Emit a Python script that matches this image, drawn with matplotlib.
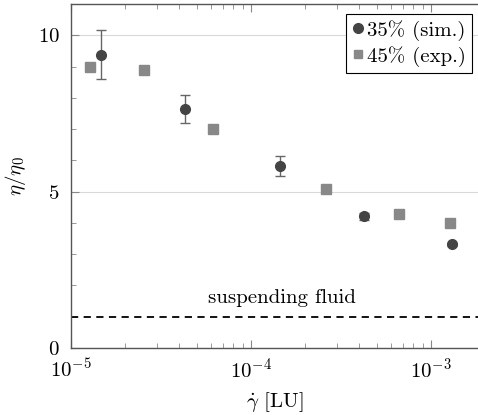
import matplotlib
matplotlib.use("Agg")
import matplotlib.pyplot as plt
from matplotlib.lines import Line2D
from matplotlib.transforms import blended_transform_factory
from matplotlib.ticker import LogLocator, MultipleLocator, NullFormatter

plt.rcParams.update({
    "font.family": "serif",
    "font.serif": ["cmr10"],
    "mathtext.fontset": "cm",
    "axes.formatter.use_mathtext": True,
    "font.size": 15,
})

# simulation, 35 % volume fraction
sim_rate = [1.47e-5, 4.33e-5, 1.456e-4, 4.27e-4, 1.32e-3]
sim_visc = [9.38, 7.65, 5.82, 4.21, 3.31]
sim_err = [0.78, 0.45, 0.32, 0.12, 0.05]

# experiment, 45 % volume fraction
exp_rate = [1.28e-5, 2.55e-5, 6.15e-5, 2.62e-4, 6.7e-4, 1.28e-3]
exp_visc = [8.99, 8.89, 7.01, 5.10, 4.30, 4.00]

fluid_level = 1.0
sim_color = "#444444"
exp_color = "#888888"

fig = plt.figure(figsize=(4.78, 4.15), dpi=100)
ax = fig.add_axes([0.148, 0.1614, 0.852, 0.829])

ax.errorbar(sim_rate, sim_visc, yerr=sim_err, fmt="o", color=sim_color,
            ecolor="#666666", elinewidth=1.0, capsize=3.5, capthick=1.0,
            markersize=7, zorder=3)
ax.plot(exp_rate, exp_visc, "s", color=exp_color, markersize=7, zorder=3)

ax.axhline(fluid_level, color="black", linestyle=(0, (4, 3)), linewidth=1.3)
ax.text(0.518, fluid_level + 0.3, "suspending fluid",
        transform=blended_transform_factory(ax.transAxes, ax.transData),
        ha="center", va="bottom", fontsize=15)

ax.set_xscale("log")
ax.set_xlim(1e-5, 1.83e-3)
ax.set_ylim(0, 11)

ax.xaxis.set_major_locator(LogLocator(base=10, numticks=10))
ax.xaxis.set_minor_locator(LogLocator(base=10, subs=range(2, 10), numticks=20))
ax.xaxis.set_minor_formatter(NullFormatter())
ax.yaxis.set_major_locator(MultipleLocator(5))
ax.yaxis.set_minor_locator(MultipleLocator(1))

ax.grid(True, which="major", axis="y", color="#d9d9d9", linewidth=0.8)
ax.set_axisbelow(True)

for side in ["left", "bottom", "top"]:
    ax.spines[side].set_color("#555555")
    ax.spines[side].set_linewidth(1.0)
ax.spines["right"].set_visible(False)

ax.tick_params(which="both", direction="in", top=True, right=False,
               color="#888888", labelsize=15)
ax.tick_params(which="major", length=6, width=0.8)
ax.tick_params(which="minor", length=3.5, width=0.6)
ax.tick_params(axis="x", pad=7)
ax.tick_params(axis="y", pad=8)

ax.set_xlabel(r"$\dot{\gamma}$ [LU]", fontsize=15, labelpad=6)
ax.set_ylabel(r"$\eta/\eta_0$", fontsize=15, labelpad=7)

handles = [
    Line2D([], [], marker="o", linestyle="none", color=sim_color, markersize=7),
    Line2D([], [], marker="s", linestyle="none", color=exp_color, markersize=6),
]
leg = ax.legend(handles, ["35% (sim.)", "45% (exp.)"], loc="upper right",
                bbox_to_anchor=(0.986, 0.972), frameon=True,
                fancybox=False, edgecolor="black", framealpha=1, fontsize=15,
                handlelength=0.5, handletextpad=0.2, borderpad=0.3,
                labelspacing=0.25, borderaxespad=0, numpoints=1)
leg.get_frame().set_linewidth(0.8)

fig.savefig("out.png", dpi=100)
